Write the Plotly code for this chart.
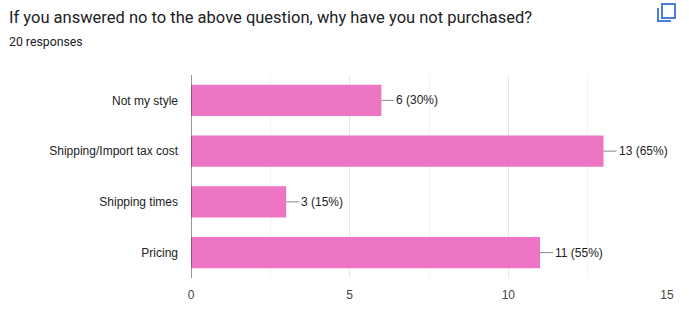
import plotly.graph_objects as go

categories = ["Not my style", "Shipping/Import tax cost", "Shipping times", "Pricing"]
counts = [6, 13, 3, 11]
total_responses = 20
tick_vals = [0, 5, 10, 15]
labels = [f"{c} ({round(c * 100 / total_responses)}%)" for c in counts]

layout_w, layout_h = 689, 318
ml, mr, mt, mb = 191, 22, 75, 40
pw, ph = layout_w - ml - mr, layout_h - mt - mb

def px_x(p):
    return (p - ml) / pw

def px_y(p):
    return 1 - (p - mt) / ph

fig = go.Figure()
fig.add_trace(go.Bar(
    x=counts, y=categories, orientation="h",
    marker=dict(color="#ee74c4", line=dict(width=0)),
    width=0.62, hoverinfo="skip",
))

for c, cat, lab in zip(counts, categories, labels):
    fig.add_annotation(
        x=c, y=cat, xref="x", yref="y", text=lab,
        showarrow=True, ax=13, ay=0, arrowhead=0, arrowwidth=1,
        arrowcolor="#8a8a8a", xanchor="left", standoff=0,
        font=dict(family="Liberation Sans", size=12, color="#222222"),
    )

fig.add_annotation(
    x=px_x(7), y=px_y(17), xref="paper", yref="paper",
    text="If you answered no to the above question, why have you not purchased?",
    showarrow=False, xanchor="left", yanchor="middle",
    font=dict(family="Roboto", size=16.5, color="#202124"),
)
fig.add_annotation(
    x=px_x(7), y=px_y(42), xref="paper", yref="paper",
    text=f"{total_responses} responses", showarrow=False, xanchor="left", yanchor="middle",
    font=dict(family="Roboto", size=12.3, color="#202124"),
)

# copy icon
fig.add_shape(type="rect", xref="paper", yref="paper",
              x0=px_x(662), x1=px_x(675), y0=px_y(4), y1=px_y(18),
              line=dict(color="#4a7ee0", width=2), fillcolor="rgba(0,0,0,0)")
fig.add_shape(type="path", xref="paper", yref="paper",
              path=f"M {px_x(658)},{px_y(8)} L {px_x(658)},{px_y(21)} L {px_x(671)},{px_y(21)}",
              line=dict(color="#4a7ee0", width=2))

fig.update_layout(
    width=layout_w, height=layout_h,
    margin=dict(l=ml, r=mr, t=mt, b=mb, pad=0),
    paper_bgcolor="white", plot_bgcolor="white",
    showlegend=False,
    xaxis=dict(
        range=[0, 15], tickvals=tick_vals, showgrid=True, gridcolor="#e6e6e6", gridwidth=1,
        minor=dict(dtick=2.5, showgrid=True, gridcolor="#f3f3f3", gridwidth=1),
        zeroline=False, showline=False, ticks="",
        tickfont=dict(family="Liberation Sans", size=12, color="#444444"),
        ticklabelstandoff=8,
    ),
    yaxis=dict(
        categoryorder="array", categoryarray=categories[::-1],
        autorange=False, range=[-0.5, 3.5],
        showgrid=False, zeroline=False, showline=False, ticks="",
        tickfont=dict(family="Liberation Sans", size=12, color="#222222"),
        ticklabelstandoff=12,
    ),
)
fig.add_shape(type="line", xref="x", yref="paper", x0=0, x1=0, y0=0, y1=1,
              line=dict(color="#333333", width=1))

fig.write_html("out.html")
